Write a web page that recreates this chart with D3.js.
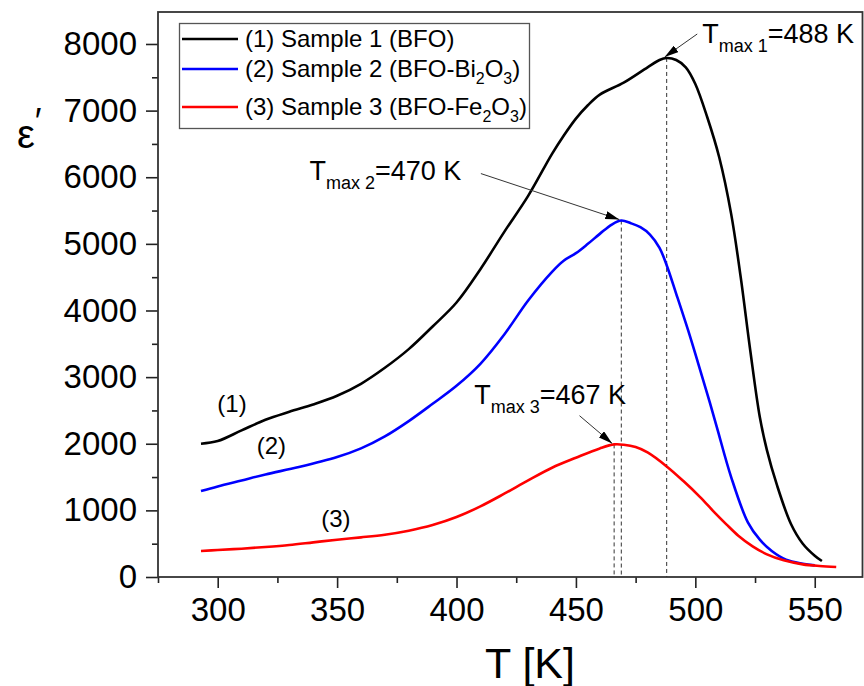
<!DOCTYPE html>
<html>
<head>
<meta charset="utf-8">
<script src="https://cdn.jsdelivr.net/npm/d3@7"></script>
<style>
  body { margin: 0; background: #fff; }
  text { font-family: "Liberation Sans", Arial, sans-serif; fill: #000; }
</style>
</head>
<body>
<div id="chart"></div>
<script>
// temperature readings (K) and real permittivity for each sample
const tSample1 = [293, 300, 310, 320, 330, 340, 350, 360, 370, 380, 390, 400, 410, 420, 430, 440, 445, 450, 455, 460, 470, 480, 485, 488, 492, 496, 500, 505, 510, 515, 519, 523, 527, 530, 534, 540, 545, 550, 553];
const eSample1 = [2000, 2040, 2200, 2360, 2480, 2590, 2720, 2900, 3140, 3420, 3760, 4120, 4620, 5180, 5720, 6350, 6630, 6880, 7080, 7240, 7420, 7650, 7760, 7790, 7760, 7650, 7400, 6900, 6300, 5450, 4500, 3400, 2400, 1900, 1400, 800, 500, 320, 240];

const tSample2 = [293, 300, 310, 320, 334, 350, 360, 370, 380, 390, 400, 410, 420, 430, 440, 445, 450, 455, 460, 465, 469, 473, 477, 481, 485, 488, 492, 497, 501, 505, 509, 515, 522, 527, 532, 538, 545, 550];
const eSample2 = [1290, 1360, 1450, 1540, 1650, 1800, 1930, 2110, 2340, 2600, 2870, 3200, 3640, 4150, 4580, 4750, 4860, 5000, 5150, 5290, 5350, 5310, 5250, 5140, 4940, 4680, 4250, 3700, 3230, 2750, 2250, 1500, 820, 560, 390, 260, 200, 175];

const tSample3 = [293, 300, 310, 320, 330, 340, 350, 360, 370, 380, 390, 400, 410, 420, 430, 440, 450, 460, 466, 470, 475, 480, 488, 495, 502, 508, 513, 518, 524, 530, 537, 545, 552, 559];
const eSample3 = [391, 405, 425, 450, 480, 520, 560, 595, 635, 695, 780, 900, 1060, 1250, 1450, 1640, 1790, 1930, 1990, 1985, 1950, 1870, 1660, 1440, 1200, 970, 790, 620, 460, 340, 250, 190, 165, 150];

// legend text: [main, sub, main, sub, main] pieces
const legendParts = [
  ["(1) Sample 1 (BFO)"],
  ["(2) Sample 2 (BFO-Bi", "2", "O", "3", ")"],
  ["(3) Sample 3 (BFO-Fe", "2", "O", "3", ")"]
];
const curveLabels = ["(1)", "(2)", "(3)"];
const seriesColors = ["#000000", "#0000ff", "#ff0000"];
const tmaxSubs = ["max 1", "max 2", "max 3"];
const tmaxValues = ["=488 K", "=470 K", "=467 K"];

const xTicks = [300, 350, 400, 450, 500, 550];
const xMinor = [275, 325, 375, 425, 475, 525];
const yTicks = [0, 1000, 2000, 3000, 4000, 5000, 6000, 7000, 8000];
const yMinor = [500, 1500, 2500, 3500, 4500, 5500, 6500, 7500];

const width = 864, height = 686;
const plotLeft = 158, plotRight = 862.5, plotTop = 12, plotBottom = 577;

const svg = d3.select("#chart").append("svg")
  .attr("width", width)
  .attr("height", height);

const x = d3.scaleLinear().domain([275, 570]).range([plotLeft, plotRight]);
const y = d3.scaleLinear().domain([0, 8480]).range([plotBottom, plotTop]);

// arrow head for the Tmax pointers
svg.append("defs").append("marker")
  .attr("id", "head")
  .attr("markerUnits", "userSpaceOnUse")
  .attr("viewBox", "0 0 14 8")
  .attr("refX", 14).attr("refY", 4)
  .attr("markerWidth", 14).attr("markerHeight", 8)
  .attr("orient", "auto")
  .append("path")
    .attr("d", "M0,0L14,4L0,8Z")
    .attr("fill", "#000");

// axes
svg.append("g")
  .attr("transform", `translate(0,${plotBottom})`)
  .call(d3.axisBottom(x).tickValues(xTicks).tickSize(11).tickSizeOuter(0).tickPadding(10).tickFormat(d3.format("d")));
svg.append("g")
  .attr("transform", `translate(0,${plotBottom})`)
  .call(d3.axisBottom(x).tickValues(xMinor).tickSize(6).tickSizeOuter(0).tickFormat(""));
svg.append("g")
  .attr("transform", `translate(${plotLeft},0)`)
  .call(d3.axisLeft(y).tickValues(yTicks).tickSize(12).tickSizeOuter(0).tickPadding(9).tickFormat(d3.format("d")));
svg.append("g")
  .attr("transform", `translate(${plotLeft},0)`)
  .call(d3.axisLeft(y).tickValues(yMinor).tickSize(6).tickSizeOuter(0).tickFormat(""));

svg.selectAll(".domain").remove();
svg.selectAll(".tick line").attr("stroke", "#222").attr("stroke-width", 1.6);
svg.selectAll(".tick text")
  .style("font-family", "'Liberation Sans', Arial, sans-serif")
  .style("font-size", "33px")
  .attr("fill", "#000");

// frame
svg.append("rect")
  .attr("x", plotLeft).attr("y", plotTop)
  .attr("width", plotRight - plotLeft).attr("height", plotBottom - plotTop)
  .attr("fill", "none")
  .attr("stroke", "#333")
  .attr("stroke-width", 1.8);

// axis titles
svg.append("text")
  .attr("x", 530).attr("y", 678)
  .attr("text-anchor", "middle")
  .style("font-size", "43px")
  .text("T [K]");

const yTitle = svg.append("text")
  .attr("x", 17).attr("y", 148)
  .style("font-size", "40px");
yTitle.append("tspan").text("ε");
yTitle.append("tspan").attr("dy", -14).style("font-size", "36px").text("′");

// series
const series = [
  d3.zip(tSample1, eSample1),
  d3.zip(tSample2, eSample2),
  d3.zip(tSample3, eSample3)
];

const line = d3.line()
  .x(d => x(d[0]))
  .y(d => y(d[1]))
  .curve(d3.curveCatmullRom.alpha(0.5));

// dashed drop lines from each peak
const peaks = series.map(s => d3.greatest(s, d => d[1]));
svg.append("g")
  .selectAll("line")
  .data(peaks)
  .join("line")
    .attr("x1", d => x(d[0])).attr("x2", d => x(d[0]))
    .attr("y1", d => y(d[1])).attr("y2", plotBottom)
    .attr("stroke", "#333")
    .attr("stroke-width", 1)
    .attr("stroke-dasharray", "4,3");

svg.append("g")
  .selectAll("path")
  .data(series)
  .join("path")
    .attr("d", line)
    .attr("fill", "none")
    .attr("stroke", (d, i) => seriesColors[i])
    .attr("stroke-width", 2.6)
    .attr("stroke-linejoin", "round");

// curve labels, placed in data units
const labelSpots = [[306, 2600], [322.5, 1970], [349.5, 872]];
svg.append("g")
  .selectAll("text")
  .data(curveLabels)
  .join("text")
    .attr("x", (d, i) => x(labelSpots[i][0]))
    .attr("y", (d, i) => y(labelSpots[i][1]))
    .attr("dy", "0.35em")
    .attr("text-anchor", "middle")
    .style("font-size", "24px")
    .text(d => d);

// Tmax annotations: text start, arrow start (data units), arrow ends at the peak
const annotSpots = [
  { text: [502.9, 8020], from: [500.8, 8150] },
  { text: [338.4, 5955], from: [410.2, 6055] },
  { text: [407.4, 2597], from: [451.5, 2421] }
];
annotSpots.forEach((a, i) => {
  const t = svg.append("text")
    .attr("x", x(a.text[0]))
    .attr("y", y(a.text[1]))
    .style("font-size", "27px");
  t.append("tspan").text("T");
  t.append("tspan").attr("dy", 9).style("font-size", "18px").text(tmaxSubs[i]);
  t.append("tspan").attr("dy", -9).text(tmaxValues[i]);

  svg.append("line")
    .attr("x1", x(a.from[0])).attr("y1", y(a.from[1]))
    .attr("x2", x(peaks[i][0]) - 2).attr("y2", y(peaks[i][1]) - 1)
    .attr("stroke", "#333")
    .attr("stroke-width", 1)
    .attr("marker-end", "url(#head)");
});

// legend
const legend = svg.append("g");
legend.append("rect")
  .attr("x", 179.5).attr("y", 23.5)
  .attr("width", 350).attr("height", 105)
  .attr("fill", "#fff")
  .attr("stroke", "#555")
  .attr("stroke-width", 1.3);
const rowY = [39, 69, 107];
legendParts.forEach((parts, i) => {
  legend.append("line")
    .attr("x1", 182).attr("x2", 238)
    .attr("y1", rowY[i]).attr("y2", rowY[i])
    .attr("stroke", seriesColors[i])
    .attr("stroke-width", 2.6);
  const t = legend.append("text")
    .attr("x", 245).attr("y", rowY[i] + 8)
    .style("font-size", "24px");
  parts.forEach((p, j) => {
    const sub = j % 2 === 1;
    const prevSub = j > 0 && (j - 1) % 2 === 1;
    t.append("tspan")
      .attr("dy", sub ? 7 : (prevSub ? -7 : 0))
      .style("font-size", sub ? "16px" : "24px")
      .text(p);
  });
});
</script>
</body>
</html>
